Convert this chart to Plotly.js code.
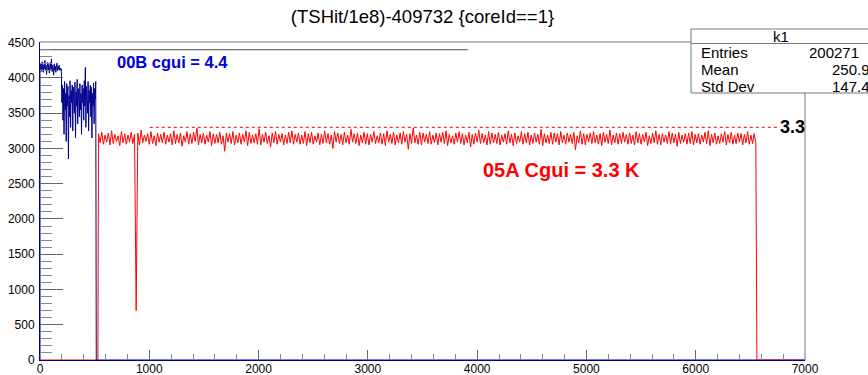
<!DOCTYPE html>
<html>
<head>
<meta charset="utf-8">
<script src="https://cdn.plot.ly/plotly-3.0.1.min.js"></script>
<style>html,body{margin:0;padding:0;background:#fff;}#chart{width:868px;height:375px;}</style>
</head>
<body>
<div id="chart"></div>
<script>
// ---- data ----
const titleText = "(TSHit/1e8)-409732 {coreId==1}";
const xTickVals = [0, 1000, 2000, 3000, 4000, 5000, 6000, 7000];
const yTickVals = [0, 500, 1000, 1500, 2000, 2500, 3000, 3500, 4000, 4500];

// 00B series (navy): first plateau, bins from 0 step 5
const blueStart1 = 0, blueStep = 5;
const blueValues1 = [4120,4200,4090,4180,4230,4110,4080,4190,4130,4250,4100,4180,4050,4160,4220,4110,4190,4070,4160,4220,
  4120,4270,4090,4180,4140,4040,4200,4110,4170,4080,4150,4210,4100,4160,4120,4180,4110,4140,4110,4130];
// 00B second noisy block, bins from 200 step 5
const blueStart2 = 200;
const blueValues2 = [3650,3900,3400,3850,3200,3950,3550,3780,3100,3920,3600,3880,2850,3750,3450,3960,3300,3820,3650,3900,
  3250,3870,3700,3500,3940,3150,3800,3600,3980,3350,3850,3700,3450,3920,3550,3780,3200,3900,3650,3850,
  3400,3960,3600,4150,3300,3880,3700,3500,3950,3250,3820,3650,3900,3450,3870,3150,3780,3600,3930,3350,
  3850,3700,3950];
const blueEndZero = [515, 7000];

// 05A series (red): per 30-wide slot, the highest and lowest bin seen
const redStart = 535, redSlot = 30;
const redHigh = [
  3210,3230,3190,3220,3250,3200,3180,3240,3210,3190,3230,3200,3220,3260,3190,3210,3240,3180,3220,3200,
  3230,3190,3210,3250,3200,3220,3180,3240,3210,3230,3290,3200,3220,3190,3240,3210,3200,3230,3180,3220,
  3210,3240,3190,3220,3200,3250,3230,3190,3210,3280,3200,3230,3180,3220,3240,3200,3210,3190,3230,3250,
  3200,3220,3190,3240,3210,3230,3180,3220,3200,3250,3210,3190,3240,3220,3200,3230,3190,3270,3210,3220,
  3190,3230,3210,3200,3240,3180,3220,3210,3250,3200,3230,3190,3220,3240,3200,3210,3290,3190,3230,3220,
  3200,3240,3190,3220,3210,3230,3250,3200,3180,3220,3240,3210,3190,3230,3200,3220,3260,3210,3190,3240,
  3220,3200,3230,3190,3210,3250,3200,3220,3180,3240,3210,3230,3190,3220,3200,3270,3210,3190,3230,3220,
  3210,3240,3190,3220,3200,3230,3180,3250,3210,3200,3220,3240,3190,3210,3230,3200,3260,3190,3220,3210,
  3230,3200,3220,3190,3240,3210,3200,3230,3180,3220,3250,3200,3210,3190,3240,3220,3200,3230,3190,3210,
  3220,3240,3200,3210,3190,3230,3250,3200,3220,3180,3210,3240,3200,3230,3190,3220,3210,3200,3240,3190,
  3210];
const redLow = [
  3080,3060,3090,3050,3070,3100,3040,3080,3060,3090,3070,700,3050,3080,3100,3060,3070,3040,3090,3080,
  3060,3090,3050,3070,3080,3030,3090,3060,3070,3100,3050,3080,3060,3090,3040,3070,3080,3060,2960,3090,
  3070,3050,3080,3060,3090,3040,3070,3080,3060,3050,3090,3070,3020,3080,3060,3090,3050,3070,3080,3060,
  3090,3060,3070,3040,3080,3060,3090,3050,3070,3080,3060,3000,3090,3070,3050,3080,3060,3090,3070,3040,
  3080,3060,3050,3090,3070,3080,3060,3040,3090,3070,3050,3080,3060,3090,2990,3070,3080,3060,3050,3090,
  3070,3060,3080,3050,3090,3070,3040,3080,3060,3090,3070,3050,3080,3020,3060,3090,3070,3080,3050,3060,
  3080,3070,3050,3090,3060,3080,3040,3070,3090,3060,3080,3050,3070,3090,3060,3040,3080,3070,3060,3090,
  3050,3080,3060,3090,3070,2980,3080,3060,3050,3090,3070,3080,3060,3040,3090,3070,3050,3080,3060,3070,
  3090,3060,3070,3050,3080,3060,3090,3040,3070,3080,3060,3050,3090,3070,3060,3080,3030,3070,3090,3060,
  3070,3050,3080,3060,3090,3070,3040,3080,3060,3070,3090,3050,3080,3060,3070,3090,3050,3080,3060,3070,
  3080];
const redZeroBefore = [0, 530];
const redZeroAfter = [6560, 7000];

// reference lines and labels
const blueLevel = 4400, blueLineRange = [0, 3915];
const redLevel = 3300, redLineRange = [1005, 6755];
const blueLabel = "00B cgui = 4.4";
const redLabel = "05A Cgui = 3.3 K";
const levelLabel = "3.3";

// stats box
const statsTitle = "k1";
const statsNames = ["Entries", "Mean", "Std Dev"];
const statsValues = ["200271", "250.9", "147.4"];

// ---- build traces ----
const blueX = [0], blueY = [0];
blueValues1.forEach((v, i) => { blueX.push(blueStart1 + i * blueStep); blueY.push(v); });
blueValues2.forEach((v, i) => { blueX.push(blueStart2 + i * blueStep); blueY.push(v); });
blueEndZero.forEach(x => { blueX.push(x); blueY.push(0); });

const redX = [], redY = [];
redZeroBefore.forEach(x => { redX.push(x); redY.push(0); });
redHigh.forEach((h, i) => {
  const x = redStart + i * redSlot;
  redX.push(x); redY.push(h);
  redX.push(x + redSlot / 2); redY.push(redLow[i]);
});
redZeroAfter.forEach(x => { redX.push(x); redY.push(0); });

const FONT = "Liberation Sans, Arial, Helvetica, sans-serif";
const NAVY = "#00008f";

const traces = [
  {x: blueX, y: blueY, type: "scatter", mode: "lines", line: {color: NAVY, width: 1, simplify: false}, hoverinfo: "skip", cliponaxis: false},
  {x: redX, y: redY, type: "scatter", mode: "lines", line: {color: "#ff0000", width: 1, simplify: false}, hoverinfo: "skip", cliponaxis: false},
  {x: blueLineRange, y: [blueLevel, blueLevel], type: "scatter", mode: "lines", line: {color: "#444", width: 1}, hoverinfo: "skip"},
  {x: redLineRange, y: [redLevel, redLevel], type: "scatter", mode: "lines", line: {color: "#ff0000", width: 1, dash: "dot"}, hoverinfo: "skip"}
];

const pY = py => (360 - py) / 318; // helper: page px to paper y
const pX = px => (px - 40) / 765;

const layout = {
  width: 868, height: 375,
  margin: {l: 40, r: 63, t: 42, b: 15, pad: 0},
  paper_bgcolor: "#fff", plot_bgcolor: "#fff",
  showlegend: false,
  font: {family: FONT, color: "#000"},
  title: {text: titleText, font: {family: FONT, size: 18.5, color: "#000"}, x: 0.5, xref: "paper", y: 1 - 17 / 375, yref: "container", yanchor: "middle"},
  xaxis: {
    range: [0, 7000], tickvals: xTickVals, ticktext: xTickVals.map(String),
    ticks: "inside", ticklen: 10, tickcolor: "#666", tickwidth: 1,
    minor: {dtick: 200, ticks: "inside", ticklen: 6, tickcolor: "#888", tickwidth: 1},
    showgrid: false, zeroline: false, showline: true, linecolor: NAVY, linewidth: 1,
    tickfont: {family: FONT, size: 12, color: "#000"}, fixedrange: true, ticklabelstandoff: -2
  },
  yaxis: {
    range: [0, 4510], tickvals: yTickVals, ticktext: yTickVals.map(String),
    ticks: "inside", ticklen: 23, tickcolor: "#666", tickwidth: 1,
    minor: {dtick: 100, ticks: "inside", ticklen: 12, tickcolor: "#888", tickwidth: 1},
    showgrid: false, zeroline: false, showline: true, linecolor: NAVY, linewidth: 1,
    tickfont: {family: FONT, size: 12, color: "#000"}, fixedrange: true, ticklabelstandoff: 2
  },
  shapes: [
    {type: "line", xref: "paper", yref: "paper", x0: 0, x1: 1, y0: 1, y1: 1, line: {color: "#777", width: 1}},
    {type: "line", xref: "paper", yref: "paper", x0: 1, x1: 1, y0: 0, y1: 1, line: {color: "#777", width: 1}},
    {type: "rect", xref: "paper", yref: "paper", x0: pX(691), x1: pX(900), y0: pY(93), y1: pY(29), line: {color: "#777", width: 1}, fillcolor: "#fff", layer: "above"},
    {type: "line", xref: "paper", yref: "paper", x0: pX(691), x1: pX(900), y0: pY(43.5), y1: pY(43.5), line: {color: "#777", width: 1}, layer: "above"}
  ],
  annotations: [
    {x: 1208, y: 4228, xref: "x", yref: "y", text: "<b>" + blueLabel + "</b>", showarrow: false, font: {family: FONT, size: 16.5, color: "#0000e0"}, xanchor: "center", yanchor: "middle"},
    {x: 4776, y: 2695, xref: "x", yref: "y", text: "<b>" + redLabel + "</b>", showarrow: false, font: {family: FONT, size: 20, color: "#ff0000"}, xanchor: "center", yanchor: "middle"},
    {x: 6755, y: redLevel, xref: "x", yref: "y", text: "<b>" + levelLabel + "</b>", showarrow: false, font: {family: FONT, size: 18, color: "#000"}, xanchor: "left", yanchor: "middle"},
    {x: pX(781), y: pY(36), xref: "paper", yref: "paper", text: statsTitle, showarrow: false, font: {family: FONT, size: 15, color: "#000"}, xanchor: "center", yanchor: "middle"}
  ]
};

const rowsPy = [52, 69, 86];
statsNames.forEach((n, i) => {
  layout.annotations.push({x: pX(699), y: pY(rowsPy[i]), xref: "paper", yref: "paper", text: n, showarrow: false, font: {family: FONT, size: 15, color: "#000"}, xanchor: "left", yanchor: "middle"});
  layout.annotations.push({x: pX(i === 0 ? 861 : 872), y: pY(rowsPy[i]), xref: "paper", yref: "paper", text: statsValues[i], showarrow: false, font: {family: FONT, size: 15, color: "#000"}, xanchor: "right", yanchor: "middle"});
});

Plotly.newPlot("chart", traces, layout, {staticPlot: true, displayModeBar: false});
</script>
</body>
</html>
